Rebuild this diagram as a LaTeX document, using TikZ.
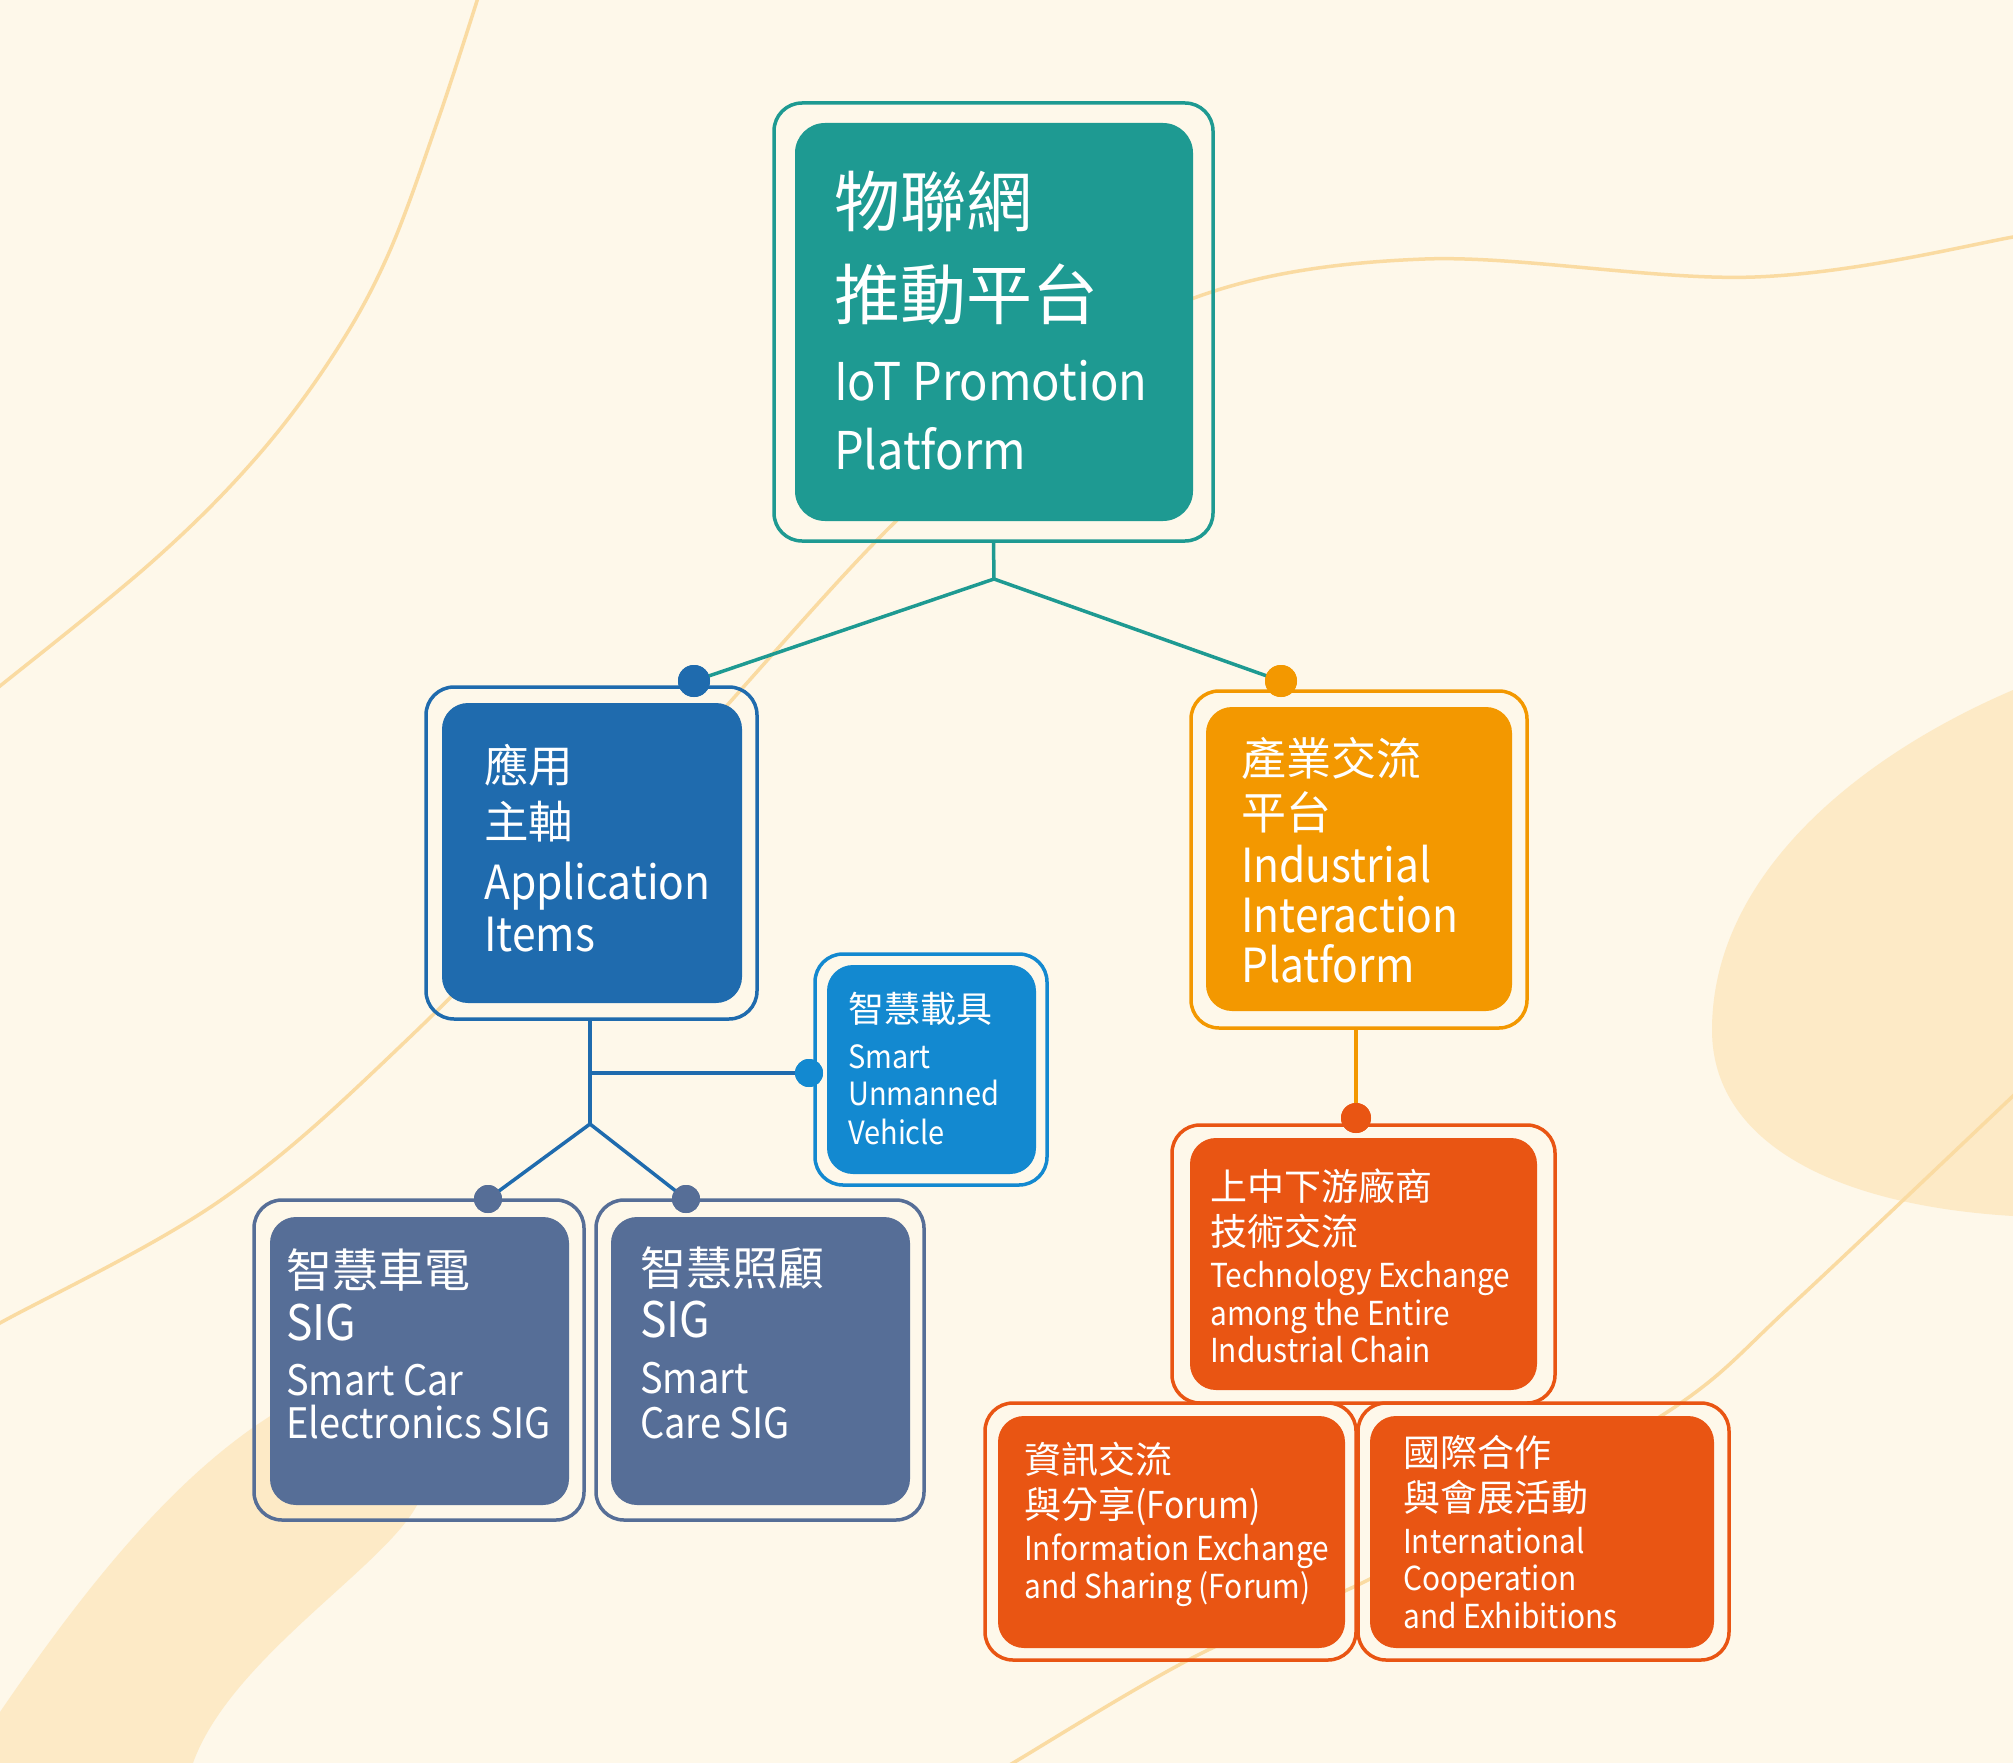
\documentclass[tikz,border=0pt]{standalone}
\usepackage{fontspec}
\setmainfont{Noto Sans CJK TC}
\newfontfamily\lat[FakeStretch=0.905]{Noto Sans CJK TC}
\definecolor{bgcol}{HTML}{FEF8EA}
\definecolor{blobcol}{HTML}{FDEAC6}
\definecolor{curvecol}{HTML}{FADBA2}
\definecolor{teal}{HTML}{1E9A92}
\definecolor{appblue}{HTML}{1F6BAE}
\definecolor{vehblue}{HTML}{1389D0}
\definecolor{slate}{HTML}{566E97}
\definecolor{orng}{HTML}{F39800}
\definecolor{redorng}{HTML}{E95513}
\begin{document}
\begin{tikzpicture}[x=1pt,y=-1pt,
  frame/.style={rectangle, draw=#1, line width=3.5pt, rounded corners=28pt, inner sep=0pt},
  panel/.style={rectangle, fill=#1, rounded corners=26pt, inner sep=0pt},
  conn/.style={line width=3.5pt, draw=#1},
  dotbig/.style={circle, fill=#1, minimum size=32pt, inner sep=0pt},
  dotsmall/.style={circle, fill=#1, minimum size=28pt, inner sep=0pt},
  txt/.style={anchor=base west, inner sep=0pt, text=white},
  cjk/.style={txt, font=\fontsize{#1}{#1}\selectfont},
  ltn/.style={txt, font=\lat\fontsize{#1}{#1}\selectfont},
  bgline/.style={line width=3.5pt, draw=curvecol}]
\useasboundingbox (0,0) rectangle (2013,1763);
\fill[bgcol] (0,0) rectangle (2013,1763);
\begin{scope}
\clip (0,0) rectangle (2013,1763);
% blobs
\fill[blobcol] (2013,690) .. controls (1850,760) and (1712,880) .. (1712,1030)
  .. controls (1712,1140) and (1830,1205) .. (2013,1216) -- (2100,1216) -- (2100,690) -- cycle;
\fill[blobcol] (0,1712) .. controls (90,1580) and (180,1470) .. (280,1410)
  .. controls (380,1350) and (470,1420) .. (416,1507)
  .. controls (380,1570) and (230,1660) .. (193,1763) -- (0,1763) -- cycle;
% curves
\draw[bgline] plot[smooth, tension=0.6] coordinates {(482,-15) (439,117) (388,255) (332,357) (255,459) (153,561) (0,686) (-20,700)};
\draw[bgline] plot[smooth, tension=0.6] coordinates {(-20,1335) (0,1323) (221,1200) (410,1037) (650,790) (887,530) (1040,400) (1194,298) (1425,259) (1755,277) (2013,237) (2040,225)};
\draw[bgline] plot[smooth, tension=0.6] coordinates {(990,1778) (1013,1763) (1194,1657) (1368,1580) (1530,1490) (1685,1400) (1797,1300) (2013,1096) (2030,1080)};
\end{scope}

% frames (outer, unfilled)
\node[frame=teal, minimum width=439pt, minimum height=438pt] (topout) at (993.5,322) {};
\node[frame=appblue, minimum width=331pt, minimum height=332pt] (appout) at (591.5,853) {};
\node[frame=vehblue, minimum width=232pt, minimum height=231pt] (vehout) at (931,1069.5) {};
\node[frame=slate, minimum width=330pt, minimum height=320pt] (carout) at (419,1360) {};
\node[frame=slate, minimum width=328pt, minimum height=320pt] (careout) at (760,1360) {};
\node[frame=orng, minimum width=336pt, minimum height=337pt] (indout) at (1359,859.5) {};
\node[frame=redorng, minimum width=383pt, minimum height=278pt] (techout) at (1363.5,1264) {};
\node[frame=redorng, minimum width=371pt, minimum height=257pt] (infoout) at (1170.5,1531.5) {};
\node[frame=redorng, minimum width=371pt, minimum height=257pt] (intlout) at (1543.5,1531.5) {};

% panels (inner, filled)
\node[panel=teal, rounded corners=30pt, minimum width=398pt, minimum height=398pt] (top) at (994,322) {};
\node[panel=appblue, minimum width=300pt, minimum height=300pt] (app) at (592,853) {};
\node[panel=vehblue, minimum width=209pt, minimum height=209pt] (veh) at (931.5,1069.5) {};
\node[panel=slate, minimum width=299pt, minimum height=288pt] (car) at (419.5,1361) {};
\node[panel=slate, minimum width=299pt, minimum height=288pt] (care) at (760.5,1361) {};
\node[panel=orng, minimum width=306pt, minimum height=304pt] (ind) at (1359,859) {};
\node[panel=redorng, minimum width=347pt, minimum height=252pt] (tech) at (1363.5,1264) {};
\node[panel=redorng, minimum width=347pt, minimum height=232pt] (info) at (1171.5,1532) {};
\node[panel=redorng, minimum width=344pt, minimum height=232pt] (intl) at (1542,1532) {};

% connectors
\coordinate (j1) at (994,579);
\node[dotbig=appblue] (dl) at (694,681) {};
\node[dotbig=orng] (dr) at (1281,681) {};
\draw[conn=teal] (topout.south) -- (j1) -- (dl.center);
\draw[conn=teal] (j1) -- (dr.center);
\node[dotbig=appblue] at (dl) {};
\node[dotbig=orng] at (dr) {};

\coordinate (j2) at (590,1124);
\coordinate (j3) at (590,1073);
\node[dotsmall=vehblue] (dv) at (809,1073) {};
\node[dotsmall=slate] (dc1) at (488,1199) {};
\node[dotsmall=slate] (dc2) at (686,1199) {};
\draw[conn=appblue] (j2 |- appout.south) -- (j2);
\draw[conn=appblue] (j3) -- (dv.center);
\draw[conn=appblue] (j2) -- (dc1.center);
\draw[conn=appblue] (j2) -- (dc2.center);
\node[dotsmall=vehblue] at (dv) {};
\node[dotsmall=slate] at (dc1) {};
\node[dotsmall=slate] at (dc2) {};

\node[dotsmall=redorng, minimum size=30pt] (dt) at (1356,1118) {};
\draw[conn=orng] (dt |- indout.south) -- (dt.center);
\node[dotsmall=redorng, minimum size=30pt] at (dt) {};

% texts
\node[cjk=66] (t1a) at (834,226) {物聯網};
\node[cjk=66] (t1b) at (834,319) {推動平台};
\node[ltn=52] (t1c) at (834,400) {IoT Promotion};
\node[ltn=52] (t1d) at (834,469) {Platform};

\node[cjk=44.5] (t2a) at (484,782) {應用};
\node[cjk=44.5] (t2b) at (484,838) {主軸};
\node[ltn=47] (t2c) at (484,899) {Application};
\node[ltn=47] (t2d) at (484,951) {Items};

\node[cjk=36] (t3a) at (848,1022) {智慧載具};
\node[ltn=32] (t3b) at (848,1068) {Smart};
\node[ltn=32] (t3c) at (848,1105) {Unmanned};
\node[ltn=32] (t3d) at (848,1144) {Vehicle};

\node[cjk=46] (t4a) at (286,1287) {智慧車電};
\node[ltn=49] (t4b) at (286,1340) {SIG};
\node[ltn=42] (t4c) at (286,1395) {Smart Car};
\node[ltn=42] (t4d) at (286,1438) {Electronics SIG};

\node[cjk=46] (t5a) at (640,1285) {智慧照顧};
\node[ltn=49] (t5b) at (640,1337) {SIG};
\node[ltn=42] (t5c) at (640,1393) {Smart};
\node[ltn=42] (t5d) at (640,1438) {Care SIG};

\node[cjk=45] (t6a) at (1241,775) {產業交流};
\node[cjk=45] (t6b) at (1241,829) {平台};
\node[ltn=47] (t6c) at (1241,882) {Industrial};
\node[ltn=47] (t6d) at (1241,932) {Interaction};
\node[ltn=47] (t6e) at (1241,982) {Platform};

\node[cjk=37] (t7a) at (1210,1200) {上中下游廠商};
\node[cjk=37] (t7b) at (1210,1245) {技術交流};
\node[ltn=33] (t7c) at (1210,1287) {Technology Exchange};
\node[ltn=33] (t7d) at (1210,1325) {among the Entire};
\node[ltn=33] (t7e) at (1210,1362) {Industrial Chain};

\node[cjk=37] (t8a) at (1024,1473) {資訊交流};
\node[cjk=37] (t8b) at (1024,1518) {與分享{\lat(Forum)}};
\node[ltn=33] (t8c) at (1024,1560) {Information Exchange};
\node[ltn=33] (t8d) at (1024,1598) {and Sharing (Forum)};

\node[cjk=37] (t9a) at (1403,1466) {國際合作};
\node[cjk=37] (t9b) at (1403,1511) {與會展活動};
\node[ltn=33] (t9c) at (1403,1553) {International};
\node[ltn=33] (t9d) at (1403,1590) {Cooperation};
\node[ltn=33] (t9e) at (1403,1628) {and Exhibitions};
\end{tikzpicture}
\end{document}
